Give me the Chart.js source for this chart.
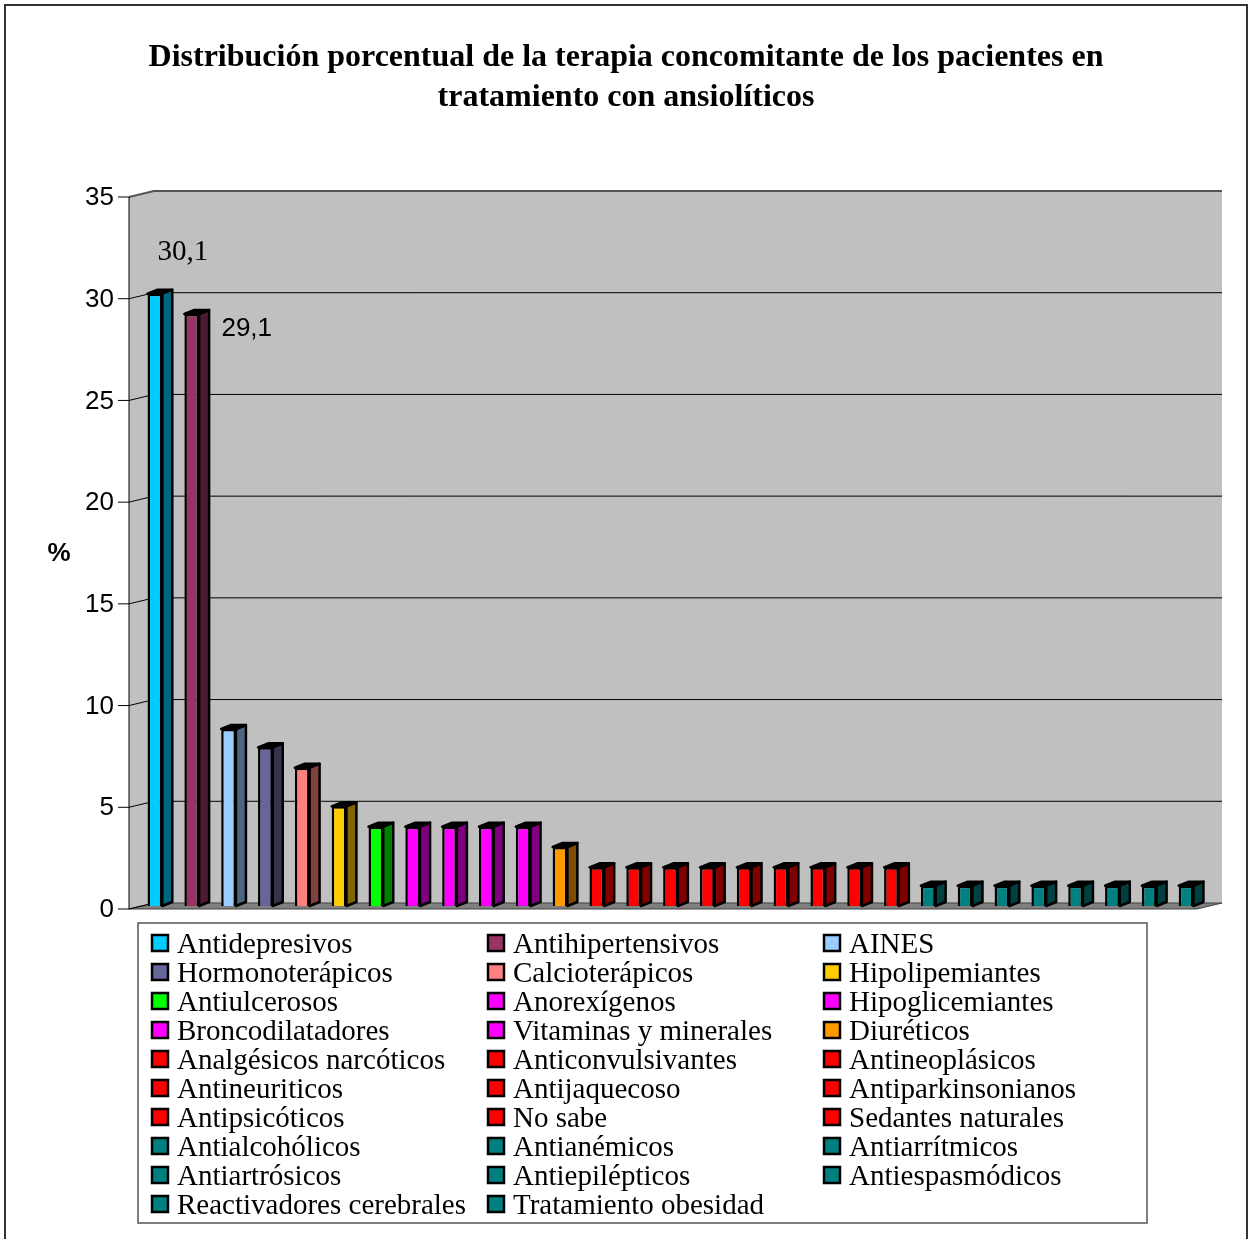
<!DOCTYPE html>
<html>
<head>
<meta charset="utf-8">
<script src="https://cdn.jsdelivr.net/npm/chart.js@4/dist/chart.umd.min.js"></script>
<style>
  body { margin: 0; background: #fff; }
  canvas { display: block; }
</style>
</head>
<body>
<canvas id="myChart" width="1249" height="1239"></canvas>
<script>
// categories of concomitant therapy, one bar each
const categories = [
  'Antidepresivos', 'Antihipertensivos', 'AINES',
  'Hormonoterápicos', 'Calcioterápicos', 'Hipolipemiantes',
  'Antiulcerosos', 'Anorexígenos', 'Hipoglicemiantes',
  'Broncodilatadores', 'Vitaminas y minerales', 'Diuréticos',
  'Analgésicos narcóticos', 'Anticonvulsivantes', 'Antineoplásicos',
  'Antineuriticos', 'Antijaquecoso', 'Antiparkinsonianos',
  'Antipsicóticos', 'No sabe', 'Sedantes naturales',
  'Antialcohólicos', 'Antianémicos', 'Antiarrítmicos',
  'Antiartrósicos', 'Antiepilépticos', 'Antiespasmódicos',
  'Reactivadores cerebrales', 'Tratamiento obesidad'
];
// percent of patients
const values = [
  30.1, 29.1, 8.7, 7.8, 6.8, 4.9,
  3.9, 3.9, 3.9, 3.9, 3.9, 2.9,
  1.9, 1.9, 1.9, 1.9, 1.9, 1.9, 1.9, 1.9, 1.9,
  1.0, 1.0, 1.0, 1.0, 1.0, 1.0, 1.0, 1.0
];
const frontColors = [
  '#00CCFF', '#993366', '#99CCFF', '#666699', '#FF8080', '#FFCC00',
  '#00FF00', '#FF00FF', '#FF00FF', '#FF00FF', '#FF00FF', '#FF9900',
  '#FF0000', '#FF0000', '#FF0000', '#FF0000', '#FF0000', '#FF0000', '#FF0000', '#FF0000', '#FF0000',
  '#008080', '#008080', '#008080', '#008080', '#008080', '#008080', '#008080', '#008080'
];
const sideColors = [
  '#006680', '#4D1A33', '#4D6680', '#33334D', '#804040', '#806600',
  '#008000', '#800080', '#800080', '#800080', '#800080', '#804D00',
  '#800000', '#800000', '#800000', '#800000', '#800000', '#800000', '#800000', '#800000', '#800000',
  '#004040', '#004040', '#004040', '#004040', '#004040', '#004040', '#004040', '#004040'
];
// only the first two bars carry a value label
const valueLabels = ['30,1', '29,1'];
const titleLines = [
  'Distribución porcentual de la terapia concomitante de los pacientes en',
  'tratamiento con ansiolíticos'
];

const wall = { dx: 25, dy: -6 };   // depth of the chart box
const barDepth = { dx: 10, dy: -4 }; // depth of each column
const barShift = { x: 7.5, y: -3 };  // columns stand half way in the box

const serif = '"Liberation Serif", "Times New Roman", serif';
const sans = '"Liberation Sans", Arial, sans-serif';

function poly(ctx, pts, fill, stroke, lw) {
  ctx.beginPath();
  ctx.moveTo(pts[0][0], pts[0][1]);
  for (let i = 1; i < pts.length; i++) ctx.lineTo(pts[i][0], pts[i][1]);
  ctx.closePath();
  if (fill) { ctx.fillStyle = fill; ctx.fill(); }
  if (stroke) { ctx.strokeStyle = stroke; ctx.lineWidth = lw || 1; ctx.lineJoin = 'round'; ctx.stroke(); }
}

const box3d = {
  id: 'box3d',
  beforeDraw(chart) {
    const ctx = chart.ctx;
    const { left, right, top, bottom } = chart.chartArea;
    const yScale = chart.scales.y;
    ctx.save();
    ctx.fillStyle = '#fff';
    ctx.fillRect(0, 0, chart.width, chart.height);

    // outer frame
    ctx.strokeStyle = '#333';
    ctx.lineWidth = 2;
    ctx.strokeRect(5, 5, 1242, 1240);

    // title
    ctx.fillStyle = '#000';
    ctx.font = 'bold 32px ' + serif;
    ctx.textAlign = 'center';
    ctx.textBaseline = 'middle';
    ctx.fillText(titleLines[0], 626, 58);
    ctx.fillText(titleLines[1], 626, 98);

    // walls and floor
    ctx.fillStyle = '#C0C0C0';
    ctx.fillRect(left + wall.dx, top + wall.dy, right - left, bottom - top);
    poly(ctx, [[left, top], [left + wall.dx, top + wall.dy], [left + wall.dx, bottom + wall.dy], [left, bottom]], '#C0C0C0');
    poly(ctx, [[left, bottom], [left + wall.dx, bottom + wall.dy], [right + wall.dx, bottom + wall.dy], [right, bottom]], '#808080', '#404040', 1);

    // grid lines on the walls, tick marks and labels
    ctx.font = '26px ' + sans;
    ctx.textAlign = 'right';
    ctx.textBaseline = 'middle';
    yScale.ticks.forEach(t => {
      const y = yScale.getPixelForValue(t.value);
      ctx.beginPath();
      ctx.moveTo(left, y);
      ctx.lineTo(left + wall.dx, y + wall.dy);
      if (t.value > 0) ctx.lineTo(right + wall.dx, y + wall.dy);
      ctx.strokeStyle = t.value === 35 ? '#555' : '#000';
      ctx.lineWidth = t.value === 35 ? 2 : 1;
      ctx.stroke();
      ctx.beginPath();
      ctx.moveTo(left - 11, y);
      ctx.lineTo(left, y);
      ctx.strokeStyle = '#000';
      ctx.lineWidth = 1;
      ctx.stroke();
      ctx.fillStyle = '#000';
      ctx.fillText(String(t.value), left - 15, y + 1);
    });
    // value axis line
    ctx.beginPath();
    ctx.moveTo(left, top);
    ctx.lineTo(left, bottom);
    ctx.strokeStyle = '#000';
    ctx.lineWidth = 1;
    ctx.stroke();

    // axis title
    ctx.font = 'bold 26px ' + sans;
    ctx.textAlign = 'center';
    ctx.fillText('%', 59, 554);
    ctx.restore();
  },
  beforeDatasetsDraw(chart) {
    chart.ctx.save();
    chart.ctx.translate(barShift.x, barShift.y);
  },
  afterDatasetsDraw(chart) {
    const ctx = chart.ctx;
    const meta = chart.getDatasetMeta(0);
    meta.data.forEach((el, i) => {
      const { x, y, base, width } = el.getProps(['x', 'y', 'base', 'width'], true);
      const xl = x - width / 2, xr = x + width / 2;
      poly(ctx, [[xr, y], [xr + barDepth.dx, y + barDepth.dy], [xr + barDepth.dx, base + barDepth.dy], [xr, base]],
        sideColors[i], '#000', 2.5);
      poly(ctx, [[xl, y], [xl + barDepth.dx, y + barDepth.dy], [xr + barDepth.dx, y + barDepth.dy], [xr, y]],
        '#000', '#000', 2.5);
    });
    ctx.restore();
  },
  afterDraw(chart) {
    const ctx = chart.ctx;
    const meta = chart.getDatasetMeta(0);
    ctx.save();
    ctx.fillStyle = '#000';
    ctx.textAlign = 'center';
    ctx.textBaseline = 'middle';
    // value labels, placed where the original puts them
    const b0 = meta.data[0], b1 = meta.data[1];
    ctx.font = '29px ' + serif;
    ctx.fillText(valueLabels[0], b0.x + barShift.x + 28, b0.y - 44);
    ctx.font = '26px ' + sans;
    ctx.fillText(valueLabels[1], b1.x + barShift.x + 55, b1.y + 12);

    // legend box
    const lx = 138, ly = 923, lw = 1009, lh = 300;
    ctx.fillStyle = '#fff';
    ctx.fillRect(lx, ly, lw, lh);
    ctx.strokeStyle = '#555';
    ctx.lineWidth = 1.5;
    ctx.strokeRect(lx, ly, lw, lh);
    ctx.font = '29px ' + serif;
    ctx.textAlign = 'left';
    categories.forEach((name, i) => {
      const col = i % 3, row = Math.floor(i / 3);
      const sx = 152 + col * 336;
      const cy = 943 + row * 29;
      ctx.fillStyle = frontColors[i];
      ctx.fillRect(sx, cy - 8, 16, 16);
      ctx.strokeStyle = '#000';
      ctx.lineWidth = 2.5;
      ctx.strokeRect(sx, cy - 8, 16, 16);
      ctx.fillStyle = '#000';
      ctx.fillText(name, sx + 25, cy + 2);
    });
    ctx.restore();
  }
};

new Chart(document.getElementById('myChart'), {
  type: 'bar',
  data: {
    labels: categories,
    datasets: [{
      data: values,
      backgroundColor: frontColors,
      borderColor: '#000',
      borderWidth: 2.5,
      barPercentage: 0.4,
      categoryPercentage: 1
    }]
  },
  options: {
    responsive: false,
    animation: false,
    events: [],
    devicePixelRatio: 1,
    layout: { padding: { left: 129, right: 52, top: 197, bottom: 330 } },
    plugins: { legend: { display: false }, title: { display: false }, tooltip: { enabled: false } },
    scales: {
      x: { display: false },
      y: { display: false, min: 0, max: 35, ticks: { stepSize: 5 } }
    }
  },
  plugins: [box3d]
});
</script>
</body>
</html>
